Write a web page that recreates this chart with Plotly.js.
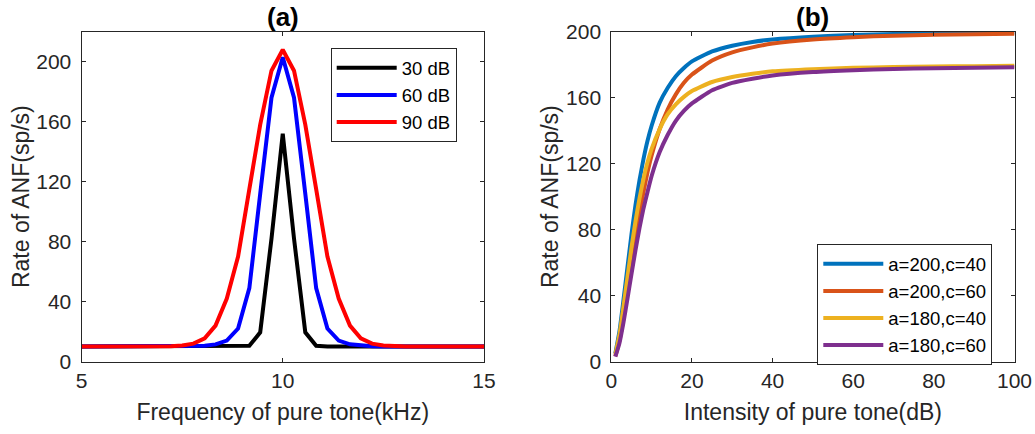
<!DOCTYPE html>
<html>
<head>
<meta charset="utf-8">
<script src="https://cdn.plot.ly/plotly-3.0.1.min.js"></script>
<style>html,body{margin:0;padding:0;background:#fff;}#chart{width:1035px;height:434px;}</style>
</head>
<body>
<div id="chart"></div>
<script>
// Panel (a): frequency tuning curves
const freqKHz = [5.00, 5.28, 5.56, 5.83, 6.11, 6.39, 6.67, 6.94, 7.22, 7.50, 7.78, 8.06, 8.33, 8.61, 8.89, 9.17, 9.44, 9.72, 10.00,
                 10.28, 10.56, 10.83, 11.11, 11.39, 11.67, 11.94, 12.22, 12.50, 12.78, 13.06, 13.33, 13.61, 13.89, 14.17, 14.44, 14.72, 15.00];
const rate30dB = [10, 10, 10, 10, 10, 10, 10, 10, 10, 10, 10, 10, 10, 10, 10, 10.5, 19.5, 82, 152,
                  82, 19.5, 10.5, 10, 10, 10, 10, 10, 10, 10, 10, 10, 10, 10, 10, 10, 10, 10];
const rate60dB = [10, 10, 10, 10, 10, 10, 10, 10, 10, 10, 10.2, 10.6, 11.5, 14, 22, 49, 112, 176, 203,
                  176, 112, 49, 22, 14, 11.5, 10.6, 10.2, 10, 10, 10, 10, 10, 10, 10, 10, 10, 10];
const rate90dB = [10, 10, 10, 10, 10, 10, 10, 10, 10.3, 10.8, 12, 15.5, 24, 42, 70, 115, 158, 194, 208,
                  194, 158, 115, 70, 42, 24, 15.5, 12, 10.8, 10.3, 10, 10, 10, 10, 10, 10, 10, 10];
const seriesA = ['30 dB', '60 dB', '90 dB'];

// Panel (b): rate-intensity curves
const intensityDB = [1, 2, 3, 4, 5, 6, 7, 8, 9, 10, 12, 14, 16, 18, 20, 25, 30, 35, 40, 50, 60, 70, 80, 90, 100];
const rateA200C40 = [5, 18, 37, 57, 77, 95, 110, 123, 134, 143, 157, 166, 173, 178, 182, 188, 191.5, 193.8, 195.3, 197, 198, 198.6, 199, 199.3, 199.5];
const rateA200C60 = [3.3, 12.5, 26, 42, 59, 75, 90, 103, 115, 125, 141, 153, 162, 169, 174, 182.5, 187.5, 190.5, 192.8, 195.3, 196.7, 197.6, 198.1, 198.5, 198.8];
const rateA180C40 = [4.4, 16, 33, 51, 69, 85, 99, 111, 121, 129, 141, 150, 156, 160.5, 164, 169.5, 172.5, 174.5, 176, 177.3, 178.1, 178.6, 178.9, 179.1, 179.3];
const rateA180C60 = [3, 11, 23.5, 38, 53, 67.5, 81, 93, 103, 112.5, 127, 137.5, 146, 152, 156.5, 164.5, 169, 171.5, 173.5, 175.6, 176.7, 177.4, 177.9, 178.2, 178.4];
const seriesB = ['a=200,c=40', 'a=200,c=60', 'a=180,c=40', 'a=180,c=60'];

const colorsA = ['#000000', '#0000FF', '#FF0000'];
const colorsB = ['#0072BD', '#D95319', '#EDB120', '#7E2F8E'];
const ink = '#262626';
const FONT = 'Arial, "Liberation Sans", sans-serif';

const ysA = [rate30dB, rate60dB, rate90dB];
const ysB = [rateA200C40, rateA200C60, rateA180C40, rateA180C60];

const traces = [];
ysA.forEach((y, i) => traces.push({
  type: 'scatter', mode: 'lines', x: freqKHz, y: y, name: seriesA[i],
  xaxis: 'x', yaxis: 'y', legend: 'legend',
  line: {color: colorsA[i], width: 4}
}));
ysB.forEach((y, i) => traces.push({
  type: 'scatter', mode: 'lines', x: intensityDB, y: y, name: seriesB[i],
  xaxis: 'x2', yaxis: 'y2', legend: 'legend2',
  line: {color: colorsB[i], width: 4, shape: 'spline', smoothing: 0.5}
}));

function axisBase() {
  return {
    showline: true, linecolor: ink, linewidth: 1, mirror: 'ticks',
    ticks: 'inside', ticklen: 4, tickcolor: ink, tickwidth: 1,
    tickfont: {family: FONT, size: 21, color: ink},
    showgrid: false, zeroline: false, fixedrange: true
  };
}

const yDom = [1 - 361.6 / 434, 1 - 31.7 / 434];
const layout = {
  width: 1035, height: 434,
  margin: {l: 0, r: 0, t: 0, b: 0},
  paper_bgcolor: '#ffffff', plot_bgcolor: '#ffffff',
  font: {family: FONT, color: ink},
  xaxis: Object.assign(axisBase(), {
    domain: [81.5 / 1035, 484 / 1035], range: [5, 15], tickvals: [5, 10, 15], anchor: 'y',
    ticklabelstandoff: 0,
    title: {text: 'Frequency of pure tone(kHz)', font: {family: FONT, size: 23, color: ink}, standoff: 13}
  }),
  yaxis: Object.assign(axisBase(), {
    domain: yDom, range: [0, 220], tickvals: [0, 40, 80, 120, 160, 200], anchor: 'x',
    ticklabelstandoff: 5,
    title: {text: 'Rate of ANF(sp/s)', font: {family: FONT, size: 23, color: ink}, standoff: 0}
  }),
  xaxis2: Object.assign(axisBase(), {
    domain: [611.3 / 1035, 1014.5 / 1035], range: [0, 100], tickvals: [0, 20, 40, 60, 80, 100], anchor: 'y2',
    ticklabelstandoff: 0,
    title: {text: 'Intensity of pure tone(dB)', font: {family: FONT, size: 23, color: ink}, standoff: 13}
  }),
  yaxis2: Object.assign(axisBase(), {
    domain: yDom, range: [0, 200], tickvals: [0, 40, 80, 120, 160, 200], anchor: 'x2',
    ticklabelstandoff: 5,
    title: {text: 'Rate of ANF(sp/s)', font: {family: FONT, size: 23, color: ink}, standoff: 0}
  }),
  showlegend: true,
  legend: {
    x: 330.7 / 1035, y: 1 - 48.3 / 434, xanchor: 'left', yanchor: 'top',
    bgcolor: '#ffffff', bordercolor: ink, borderwidth: 1,
    font: {family: FONT, size: 18.5, color: '#000000'}, itemwidth: 60, tracegroupgap: 0
  },
  legend2: {
    x: 817.3 / 1035, y: 1 - 244.3 / 434, xanchor: 'left', yanchor: 'top',
    bgcolor: '#ffffff', bordercolor: ink, borderwidth: 1,
    font: {family: FONT, size: 18.5, color: '#000000'}, itemwidth: 60, tracegroupgap: 0
  },
  annotations: [
    {text: '<b>(a)</b>', xref: 'paper', yref: 'paper', x: (81.5 + 484) / 2 / 1035, y: 1 - 17 / 434,
     xanchor: 'center', yanchor: 'middle', showarrow: false, font: {family: FONT, size: 26, color: '#000000'}},
    {text: '<b>(b)</b>', xref: 'paper', yref: 'paper', x: (611.3 + 1014.5) / 2 / 1035, y: 1 - 17 / 434,
     xanchor: 'center', yanchor: 'middle', showarrow: false, font: {family: FONT, size: 26, color: '#000000'}}
  ]
};

Plotly.newPlot('chart', traces, layout, {displayModeBar: false, staticPlot: true});
</script>
</body>
</html>
